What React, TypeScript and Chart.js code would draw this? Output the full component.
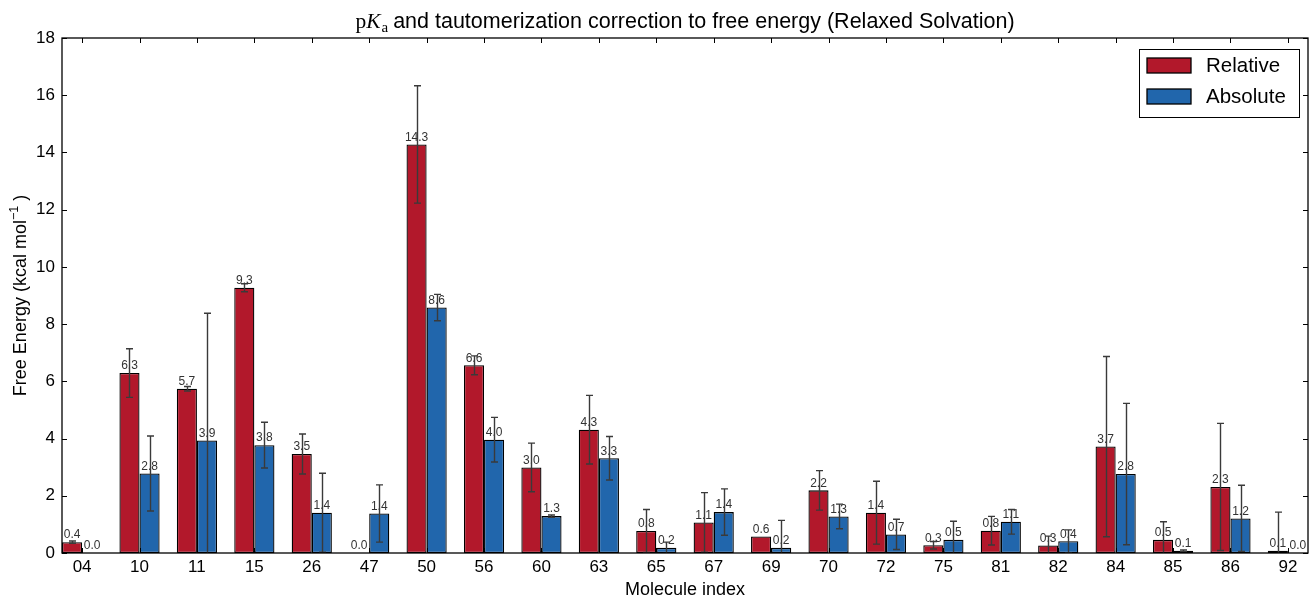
import React, { useEffect, useRef } from "react";
import { Chart, registerables } from "chart.js";

Chart.register(...registerables);

const categories = ["04", "10", "11", "15", "26", "47", "50", "56", "60", "63", "65", "67", "69", "70", "72", "75", "81", "82", "84", "85", "86", "92"];
const relativeValues = [0.38, 6.29, 5.74, 9.27, 3.46, 0.0, 14.28, 6.56, 2.99, 4.31, 0.77, 1.07, 0.58, 2.19, 1.41, 0.27, 0.78, 0.26, 3.72, 0.46, 2.31, 0.08];
const relativeErrors = [0.04, 0.85, 0.08, 0.14, 0.7, 0, 2.05, 0.33, 0.85, 1.2, 0.75, 1.04, 0, 0.69, 1.1, 0.13, 0.5, 0.33, 3.15, 0.63, 2.22, 1.35];
const absoluteValues = [0.0, 2.78, 3.93, 3.77, 1.41, 1.38, 8.58, 3.96, 1.29, 3.31, 0.18, 1.43, 0.18, 1.28, 0.65, 0.46, 1.09, 0.41, 2.76, 0.08, 1.21, 0.0];
const absoluteErrors = [0, 1.31, 4.45, 0.8, 1.38, 1.0, 0.46, 0.78, 0.04, 0.76, 0.2, 0.81, 0.96, 0.43, 0.53, 0.65, 0.43, 0.4, 2.47, 0.03, 1.16, 0];
const seriesLabels = ["Relative", "Absolute"];
const yTicks = [0, 2, 4, 6, 8, 10, 12, 14, 16, 18];

const RED = "#b2182b";
const BLUE = "#2166ac";
const SANS = "'Liberation Sans', Arial, Helvetica, sans-serif";
const SERIF = "'Liberation Serif', 'DejaVu Serif', serif";

export default function App() {
  const ref = useRef<HTMLCanvasElement | null>(null);

  useEffect(() => {
    document.body.style.margin = "0";
    const canvas = ref.current;
    if (!canvas) return;

    const valuesAll = [relativeValues, absoluteValues];
    const errorsAll = [relativeErrors, absoluteErrors];

    const overlay = {
      id: "overlay",
      afterDatasetsDraw(chart: any) {
        const ctx = chart.ctx;
        const area = chart.chartArea;
        const yScale = chart.scales.y;
        // value labels
        ctx.save();
        ctx.font = `12px ${SANS}`;
        ctx.fillStyle = "#333";
        ctx.textAlign = "center";
        ctx.textBaseline = "bottom";
        valuesAll.forEach((vals, d) => {
          const meta = chart.getDatasetMeta(d);
          meta.data.forEach((bar: any, i: number) => {
            ctx.fillText(vals[i].toFixed(1), bar.x, bar.y - 1);
          });
        });
        ctx.restore();
        // error bars
        ctx.save();
        ctx.beginPath();
        ctx.rect(area.left, area.top, area.right - area.left, area.bottom - area.top);
        ctx.clip();
        ctx.strokeStyle = "#3a3a3a";
        ctx.lineWidth = 1.4;
        errorsAll.forEach((errs, d) => {
          const meta = chart.getDatasetMeta(d);
          meta.data.forEach((bar: any, i: number) => {
            const e = errs[i];
            if (!e) return;
            const v = valuesAll[d][i];
            const yTop = yScale.getPixelForValue(v + e);
            const yBot = yScale.getPixelForValue(v - e);
            const x = Math.round(bar.x) + 0.5;
            ctx.beginPath();
            ctx.moveTo(x, yTop);
            ctx.lineTo(x, yBot);
            ctx.moveTo(x - 3.5, yTop);
            ctx.lineTo(x + 3.5, yTop);
            ctx.moveTo(x - 3.5, yBot);
            ctx.lineTo(x + 3.5, yBot);
            ctx.stroke();
          });
        });
        ctx.restore();
      },
      afterDraw(chart: any) {
        const ctx = chart.ctx;
        const area = chart.chartArea;
        const xScale = chart.scales.x;
        const yScale = chart.scales.y;
        ctx.save();
        // frame
        ctx.strokeStyle = "#000";
        ctx.lineWidth = 1.3;
        ctx.strokeRect(area.left, area.top, area.right - area.left, area.bottom - area.top);
        // inward ticks
        ctx.lineWidth = 1;
        ctx.beginPath();
        yTicks.forEach((t) => {
          const y = Math.round(yScale.getPixelForValue(t)) + 0.5;
          ctx.moveTo(area.left, y);
          ctx.lineTo(area.left + 5, y);
          ctx.moveTo(area.right, y);
          ctx.lineTo(area.right - 5, y);
        });
        categories.forEach((_, i) => {
          const x = Math.round(xScale.getPixelForValue(i)) + 0.5;
          ctx.moveTo(x, area.top);
          ctx.lineTo(x, area.top + 5);
          ctx.moveTo(x, area.bottom);
          ctx.lineTo(x, area.bottom - 5);
        });
        ctx.stroke();

        // title
        const cx = (area.left + area.right) / 2;
        const baseY = 28;
        const rest = " and tautomerization correction to free energy (Relaxed Solvation)";
        ctx.fillStyle = "#000";
        ctx.textBaseline = "alphabetic";
        ctx.textAlign = "left";
        ctx.font = `21.5px ${SERIF}`;
        const wp = ctx.measureText("p").width;
        ctx.font = `italic 21.5px ${SERIF}`;
        const wk = ctx.measureText("K").width;
        ctx.font = `15px ${SERIF}`;
        const wa = ctx.measureText("a").width;
        ctx.font = `21.5px ${SANS}`;
        const wr = ctx.measureText(rest).width;
        let x = cx - (wp + wk + wa + wr) / 2;
        ctx.font = `21.5px ${SERIF}`;
        ctx.fillText("p", x, baseY);
        x += wp;
        ctx.font = `italic 21.5px ${SERIF}`;
        ctx.fillText("K", x, baseY);
        x += wk + 1;
        ctx.font = `15px ${SERIF}`;
        ctx.fillText("a", x, baseY + 4);
        x += wa - 1;
        ctx.font = `21.5px ${SANS}`;
        ctx.fillText(rest, x, baseY);

        // x axis title
        ctx.textAlign = "center";
        ctx.textBaseline = "middle";
        ctx.font = `18px ${SANS}`;
        ctx.fillText("Molecule index", cx, 590);

        // y axis title
        const cy = (area.top + area.bottom) / 2;
        ctx.save();
        ctx.translate(21, cy);
        ctx.rotate(-Math.PI / 2);
        ctx.textAlign = "left";
        ctx.textBaseline = "middle";
        const main = "Free Energy (kcal mol";
        const sup = "\u22121";
        const close = " )";
        ctx.font = `18px ${SANS}`;
        const wm = ctx.measureText(main).width;
        const wc = ctx.measureText(close).width;
        ctx.font = `12.5px ${SANS}`;
        const ws = ctx.measureText(sup).width;
        let tx = -(wm + ws + wc) / 2;
        ctx.font = `18px ${SANS}`;
        ctx.fillText(main, tx, 0);
        tx += wm;
        ctx.font = `12.5px ${SANS}`;
        ctx.fillText(sup, tx, -6);
        tx += ws;
        ctx.font = `18px ${SANS}`;
        ctx.fillText(close, tx, 0);
        ctx.restore();

        // legend
        ctx.fillStyle = "#fff";
        ctx.fillRect(1139, 49, 160, 68);
        ctx.strokeStyle = "#000";
        ctx.lineWidth = 1;
        ctx.strokeRect(1139.5, 49.5, 160, 68);
        const colors = [RED, BLUE];
        seriesLabels.forEach((lab, k) => {
          const sy = 58 + k * 31;
          ctx.fillStyle = colors[k];
          ctx.fillRect(1147, sy, 44, 15);
          ctx.lineWidth = 1.3;
          ctx.strokeStyle = "#000";
          ctx.strokeRect(1147, sy, 44, 15);
          ctx.fillStyle = "#000";
          ctx.font = `20.5px ${SANS}`;
          ctx.textAlign = "left";
          ctx.textBaseline = "middle";
          ctx.fillText(lab, 1206, sy + 8);
        });
        ctx.restore();
      },
    };

    const chart = new Chart(canvas, {
      type: "bar",
      data: {
        datasets: [
          {
            label: seriesLabels[0],
            data: relativeValues.map((v, i) => ({ x: i, y: v })),
            backgroundColor: RED,
            borderColor: "#000",
            borderWidth: 1.3,
            borderSkipped: false,
          },
          {
            label: seriesLabels[1],
            data: absoluteValues.map((v, i) => ({ x: i, y: v })),
            backgroundColor: BLUE,
            borderColor: "#000",
            borderWidth: 1.3,
            borderSkipped: false,
          },
        ],
      } as any,
      options: {
        responsive: false,
        animation: false,
        devicePixelRatio: 1,
        layout: { padding: { top: 38, right: 2, left: 0, bottom: 0 } },
        datasets: { bar: { categoryPercentage: 0.7, barPercentage: 1.0 } },
        plugins: {
          legend: { display: false },
          title: { display: false },
          tooltip: { enabled: false },
        },
        scales: {
          x: {
            type: "linear",
            offset: false,
            min: -0.35,
            max: 21.35,
            grid: { display: false, drawTicks: false, offset: false },
            border: { display: false },
            afterBuildTicks: (s: any) => {
              s.ticks = categories.map((_, i) => ({ value: i }));
            },
            afterFit: (s: any) => {
              s.height = 46;
            },
            ticks: {
              autoSkip: false,
              maxRotation: 0,
              minRotation: 0,
              padding: 4,
              color: "#000",
              font: { family: SANS, size: 17 },
              callback: (v: any) => categories[Math.round(Number(v))] ?? "",
            },
          },
          y: {
            min: 0,
            max: 18,
            grid: { display: false, drawTicks: false },
            border: { display: false },
            afterBuildTicks: (s: any) => {
              s.ticks = yTicks.map((t) => ({ value: t }));
            },
            afterFit: (s: any) => {
              s.width = 62;
            },
            ticks: {
              padding: 7,
              color: "#000",
              font: { family: SANS, size: 17 },
              callback: (v: any) => String(v),
            },
          },
        },
      } as any,
      plugins: [overlay],
    });

    return () => chart.destroy();
  }, []);

  return (
    <div style={{ position: "absolute", left: 0, top: 0, width: 1310, height: 599, background: "#fff" }}>
      <canvas ref={ref} width={1310} height={599} style={{ display: "block" }} />
    </div>
  );
}
